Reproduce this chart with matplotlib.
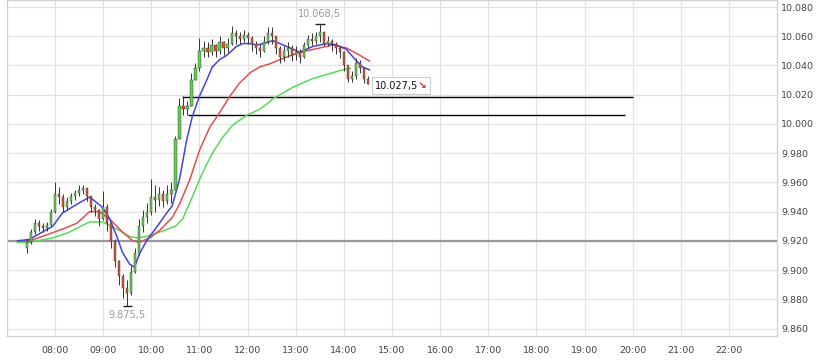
import numpy as np
import matplotlib
matplotlib.use("Agg")
import matplotlib.pyplot as plt
from matplotlib.patches import Rectangle

plt.rcParams['font.family'] = ['DejaVu Sans']

# 5-Minuten-Kerzen ab 07:25 (Schlusskurse, Hochs, Tiefs)
first_bar = "07:25"
first_open = 9915
closes = [9919, 9926, 9932, 9930, 9929, 9931, 9940,
          9952, 9950, 9943, 9947, 9951, 9953, 9955, 9956, 9951, 9943, 9941, 9935,
          9943, 9932, 9920, 9906, 9896, 9888, 9884, 9899, 9912, 9930, 9936, 9940,
          9950, 9948, 9952, 9947, 9952, 9955, 9990, 10012, 10010, 10012, 10030, 10038,
          10050, 10052, 10049, 10054, 10050, 10056, 10052, 10055, 10062, 10060, 10058, 10061,
          10059, 10055, 10052, 10050, 10056, 10062, 10060, 10052, 10046, 10050, 10052, 10047,
          10049, 10046, 10054, 10058, 10057, 10060, 10063, 10055, 10057, 10055, 10052, 10049,
          10040, 10031, 10033, 10042, 10038, 10031, 10027.5]
highs = [9921, 9928, 9935, 9934, 9932, 9933, 9942,
         9960, 9957, 9952, 9950, 9953, 9955, 9958, 9958, 9956, 9950, 9945, 9942,
         9954, 9945, 9933, 9921, 9907, 9897, 9893, 9903, 9915, 9935, 9941, 9946,
         9962, 9958, 9957, 9955, 9958, 9960, 9992, 10018, 10019, 10016, 10035, 10042,
         10059, 10057, 10056, 10058, 10055, 10060, 10057, 10059, 10067, 10064, 10063, 10064,
         10063, 10060, 10057, 10055, 10060, 10066, 10066, 10058, 10053, 10053, 10056, 10054,
         10053, 10051, 10056, 10061, 10062, 10063, 10068.5, 10062, 10060, 10058, 10056, 10053,
         10050, 10040, 10036, 10045, 10044, 10039, 10033]
lows = [9912, 9918, 9925, 9927, 9926, 9927, 9930,
        9939, 9945, 9940, 9941, 9945, 9948, 9951, 9952, 9947, 9940, 9937, 9930,
        9934, 9927, 9915, 9902, 9890, 9881, 9875.5, 9883, 9898, 9910, 9926, 9932,
        9938, 9940, 9944, 9943, 9945, 9946, 9955, 9990, 10006, 10006, 10012, 10030,
        10036, 10046, 10046, 10047, 10046, 10048, 10047, 10049, 10054, 10055, 10055, 10056,
        10055, 10050, 10048, 10046, 10049, 10055, 10055, 10048, 10042, 10043, 10046, 10043,
        10044, 10042, 10045, 10052, 10054, 10055, 10056, 10053, 10053, 10050, 10048, 10045,
        10036, 10029, 10029, 10031, 10035, 10028, 10027]

# gleitende Durchschnitte
blue_t = ["07:13", "07:28", "07:44", "07:57", "08:09", "08:27", "08:43", "08:59", "09:08",
          "09:17", "09:24", "09:33", "09:39", "09:45", "09:54", "10:06", "10:10", "10:19",
          "10:26", "10:35", "10:44", "10:51", "11:00", "11:09", "11:16", "11:25", "11:34",
          "11:46", "11:54", "12:03", "12:11", "12:20", "12:31", "12:49", "13:05", "13:21",
          "13:39", "13:51", "14:03", "14:16", "14:23", "14:32"]
blue_v = [9920, 9921, 9926, 9930, 9939, 9945, 9950, 9943, 9935,
          9923, 9912, 9904, 9902, 9911, 9920, 9929, 9932, 9939,
          9944, 9962, 9989, 10005, 10019, 10030, 10039, 10044, 10047,
          10053, 10055, 10055, 10054, 10055, 10057, 10053, 10049, 10053,
          10055, 10054, 10051, 10043, 10039, 10037]
red_t = ["07:13", "07:28", "07:44", "08:09", "08:27", "08:43", "08:55", "09:08", "09:24",
         "09:37", "09:45", "09:58", "10:10", "10:19", "10:26", "10:35", "10:48", "11:00",
         "11:13", "11:23", "11:38", "11:50", "12:03", "12:15", "12:27", "12:40", "13:05",
         "13:30", "13:46", "14:03", "14:20", "14:32"]
red_v = [9920, 9920, 9923, 9928, 9932, 9940, 9940, 9935, 9926,
         9920, 9919, 9922, 9927, 9932, 9936, 9945, 9962, 9982,
         9998, 10006, 10019, 10028, 10035, 10039, 10041, 10044, 10049,
         10052, 10054, 10052, 10047, 10043]
green_t = ["07:13", "07:28", "07:57", "08:18", "08:43", "08:59", "09:17", "09:33", "09:42",
           "09:54", "10:10", "10:20", "10:30", "10:39", "10:51", "11:04", "11:16", "11:29",
           "11:41", "11:59", "12:15", "12:27", "12:31", "12:56", "13:21", "13:46", "13:58",
           "14:08"]
green_v = [9919, 9919, 9922, 9926, 9933, 9933, 9928, 9923, 9922,
           9923, 9926, 9928, 9930, 9935, 9950, 9967, 9980, 9991,
           9999, 10006, 10010, 10015, 10017, 10025, 10031, 10035, 10037,
           10038]

# Linien
prev_close = 9920
lines = [(10018.7, "10:38", "20:00"), (10005.8, "10:46", "19:50")]

x_ticks = ["%02d:00" % h for h in range(8, 23)]
y_ticks = list(range(9860, 10081, 20))


def hrs(s):
    h, m = s.split(":")
    return int(h) + int(m) / 60


def de(v, dec=0):
    s = "{:,.{}f}".format(v, dec)
    return s.replace(",", "X").replace(".", ",").replace("X", ".")


fig = plt.figure(figsize=(8.2, 3.64), dpi=100)
ax = fig.add_axes([7 / 820, 1 - 336 / 364, 770 / 820, 336 / 364])
ax.set_xlim(7.0, 23.0)
ax.set_ylim(9854.9, 10084.8)

ax.set_xticks([hrs(t) for t in x_ticks])
ax.set_xticklabels(x_ticks)
ax.set_yticks(y_ticks)
ax.set_yticklabels([de(v) for v in y_ticks])
ax.yaxis.tick_right()
ax.tick_params(axis='both', length=0, labelsize=6.8, colors='#444')
ax.tick_params(axis='y', pad=3)
ax.tick_params(axis='x', pad=7)
ax.grid(True, color='#e2e2e2', linewidth=0.9)
ax.set_axisbelow(True)
for sp in ax.spines.values():
    sp.set_color('#d0d0d0')
    sp.set_linewidth(0.9)

ax.axhline(prev_close, color='#999999', linewidth=1.6, zorder=2)

for val, a, b in lines:
    ax.hlines(val, hrs(a), hrs(b), color='black', linewidth=1.0, zorder=3)

ax.plot([hrs(t) for t in green_t], green_v, color='#55dd55', linewidth=1.1, zorder=4)
ax.plot([hrs(t) for t in red_t], red_v, color='#e05050', linewidth=1.1, zorder=4)
ax.plot([hrs(t) for t in blue_t], blue_v, color='#4444dd', linewidth=1.1, zorder=4)

# Kerzen
t0 = hrs(first_bar)
tt = t0 + np.arange(len(closes)) * 5 / 60
opens = [first_open] + closes[:-1]
ax.vlines(tt, lows, highs, color='#333333', linewidth=0.7, zorder=5)
for t, o, c in zip(tt, opens, closes):
    col = '#66cc55' if c >= o else '#d8553a'
    ax.bar(t, max(abs(c - o), 0.8), bottom=min(o, c), width=0.045,
           color=col, edgecolor='#333333', linewidth=0.3, zorder=6)

# Hoch / Tief
ih = int(np.argmax(highs))
il = int(np.argmin(lows))
ax.hlines(highs[ih], tt[ih] - 0.1, tt[ih] + 0.1, color='#222', linewidth=1.0, zorder=7)
ax.text(tt[ih], highs[ih] + 3, de(highs[ih], 1), ha='center', va='bottom',
        fontsize=7, color='#999999')
ax.hlines(lows[il], tt[il] - 0.1, tt[il] + 0.1, color='#222', linewidth=1.0, zorder=7)
ax.text(tt[il], lows[il] - 3, de(lows[il], 1), ha='center', va='top',
        fontsize=7, color='#999999')

# letzter Kurs
last_y = closes[-1] - 1.5
ax.add_patch(Rectangle((tt[-1] + 0.08, last_y - 5.5), 1.2, 11.5, facecolor='white',
                       edgecolor='#cccccc', linewidth=0.8, zorder=8))
ax.text(tt[-1] + 0.14, last_y, de(closes[-1], 1), ha='left', va='center',
        fontsize=7, color='#111111', zorder=9)
ax.text(tt[-1] + 1.12, last_y, "\u2198", ha='center', va='center',
        fontsize=7.5, color='#dd2222', fontweight='bold', zorder=9)

fig.savefig("out.png", dpi=100)
